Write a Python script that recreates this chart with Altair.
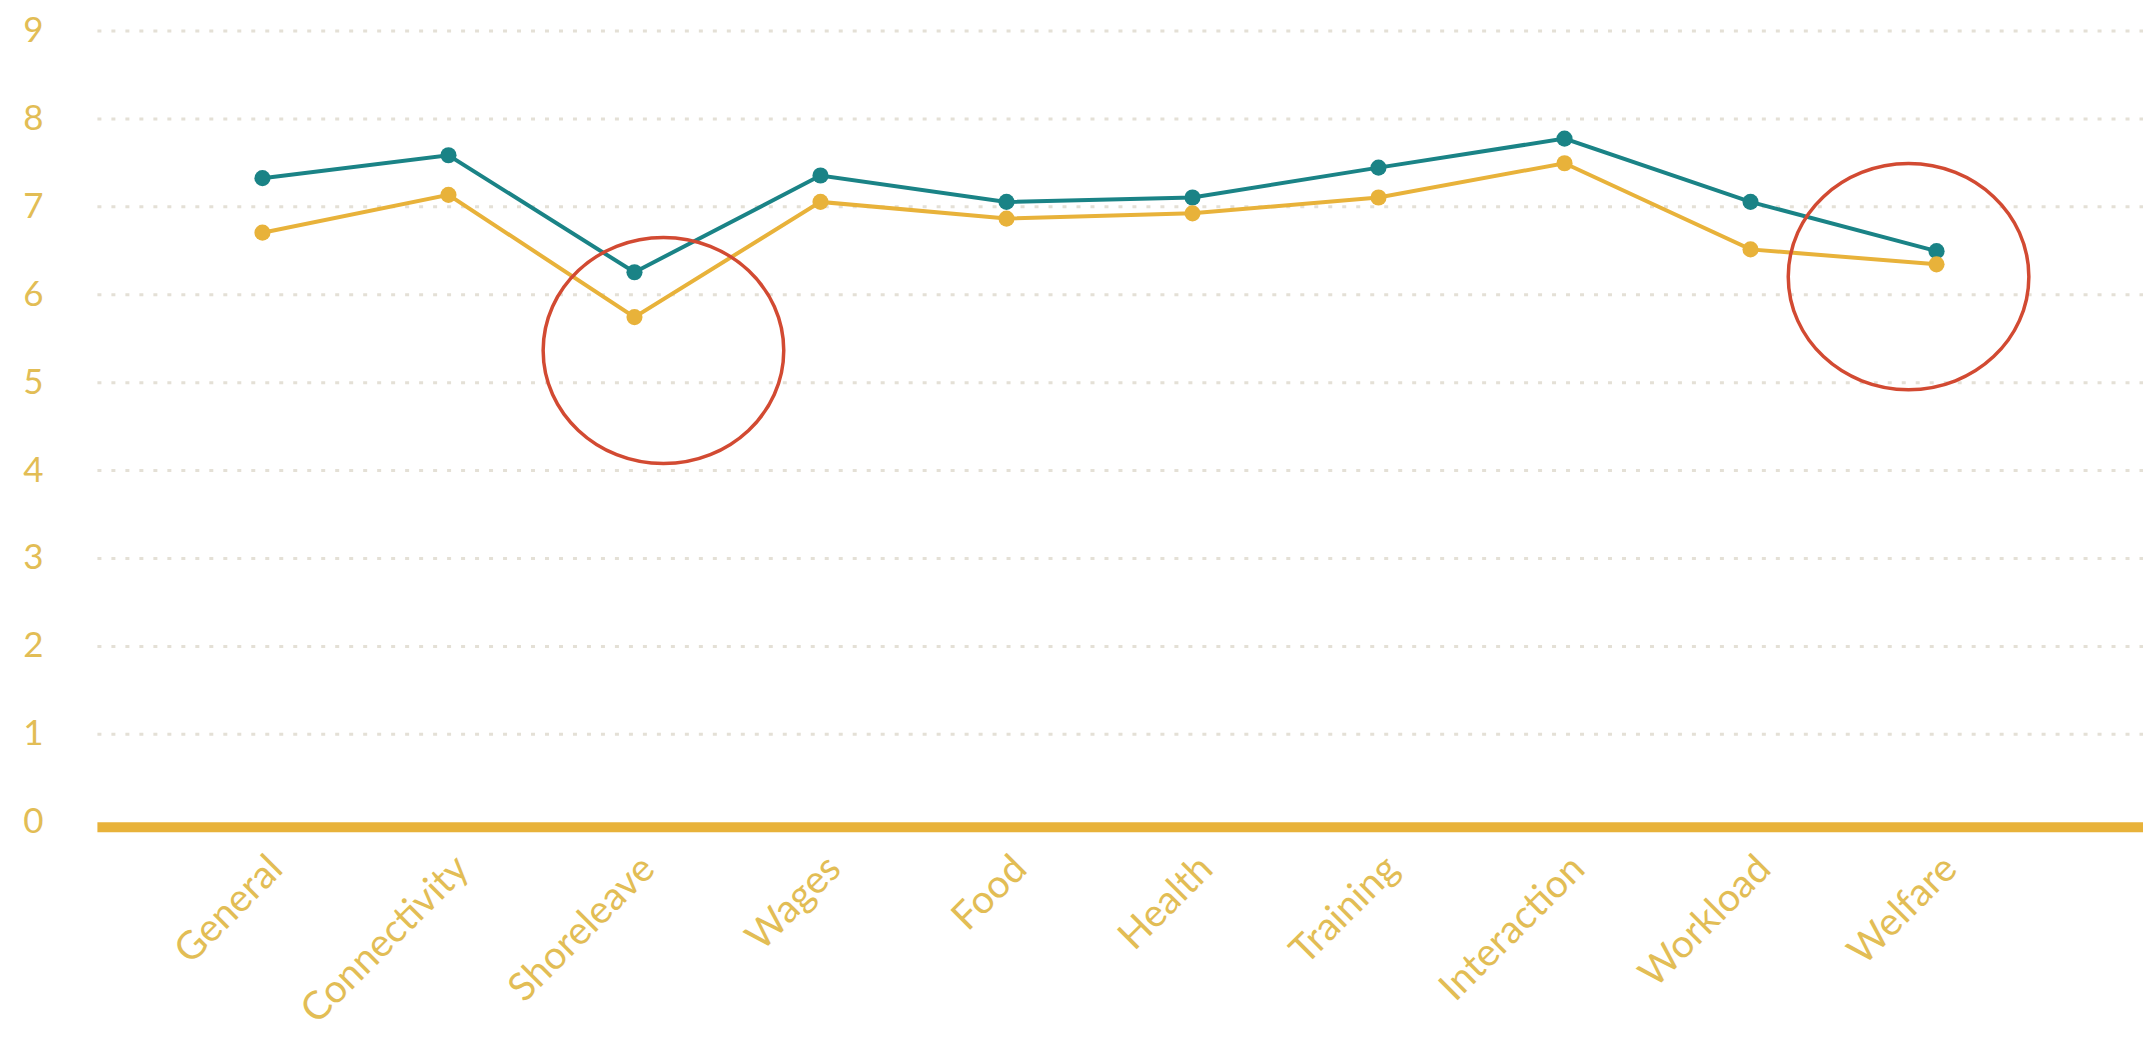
import altair as alt
import pandas as pd

categories = ["General", "Connectivity", "Shoreleave", "Wages", "Food",
              "Health", "Training", "Interaction", "Workload", "Welfare"]
teal_values = [7.32, 7.58, 6.25, 7.35, 7.05, 7.10, 7.44, 7.77, 7.05, 6.49]
gold_values = [6.70, 7.13, 5.74, 7.05, 6.86, 6.92, 7.10, 7.49, 6.51, 6.34]
y_ticks = [0, 1, 2, 3, 4, 5, 6, 7, 8, 9]

note_categories = ["Shoreleave", "Welfare"]
note_values = [5.36, 6.20]

TEAL = "#1a8386"
GOLD = "#e8b23a"
LABEL = "#e2bd55"
RED = "#d24a32"
GRID = "#e4e0d6"
ELLIPSE = "M -1 0 A 1 0.94 0 1 1 1 0 A 1 0.94 0 1 1 -1 0 Z"

teal_df = pd.DataFrame({"category": categories, "value": teal_values})
gold_df = pd.DataFrame({"category": categories, "value": gold_values})

x_enc = alt.X("category:N", sort=categories,
              scale=alt.Scale(type="point", padding=1.0, align=0.445),
              axis=alt.Axis(title=None, labelAngle=-45, labelColor=LABEL,
                            labelFont="Lato", labelFontSize=39, labelLimit=0,
                            ticks=False, domain=True, domainColor=GOLD, domainWidth=10,
                            offset=5, labelPadding=22, grid=False))
y_enc = alt.Y("value:Q",
              scale=alt.Scale(domain=[0, 9], nice=False, zero=True),
              axis=alt.Axis(title=None, values=y_ticks, format="d", domain=False, ticks=False,
                            labelColor=LABEL, labelFont="Lato", labelFontSize=35,
                            labelPadding=54, grid=True, gridColor=GRID,
                            gridWidth=3, gridDash=[4, 10],
                            gridOpacity=alt.condition("datum.value == 0", alt.value(0), alt.value(1))))

teal_line = alt.Chart(teal_df).mark_line(
    color=TEAL, strokeWidth=4,
    point=alt.OverlayMarkDef(filled=True, color=TEAL, size=260, opacity=1)
).encode(x=x_enc, y=y_enc)

gold_line = alt.Chart(gold_df).mark_line(
    color=GOLD, strokeWidth=4,
    point=alt.OverlayMarkDef(filled=True, color=GOLD, size=260, opacity=1)
).encode(x=alt.X("category:N", sort=categories), y="value:Q")

note1 = alt.Chart(pd.DataFrame({"category": [note_categories[0]], "value": [note_values[0]]})).mark_point(
    shape=ELLIPSE, size=58000, filled=False, stroke=RED, strokeWidth=3.5, opacity=1
).encode(x=alt.X("category:N", sort=categories), y="value:Q", xOffset=alt.value(29))

note2 = alt.Chart(pd.DataFrame({"category": [note_categories[1]], "value": [note_values[1]]})).mark_point(
    shape=ELLIPSE, size=58000, filled=False, stroke=RED, strokeWidth=3.5, opacity=1
).encode(x=alt.X("category:N", sort=categories), y="value:Q", xOffset=alt.value(-28))

chart = alt.layer(teal_line, gold_line, note1, note2).properties(
    width=2048, height=792,
    autosize=alt.AutoSizeParams(type="none"),
    padding={"left": 89, "top": 22, "right": 0, "bottom": 222},
    background="white",
).configure_view(stroke=None)

chart.save("out.html", embed_options={"renderer": "svg", "actions": False})
